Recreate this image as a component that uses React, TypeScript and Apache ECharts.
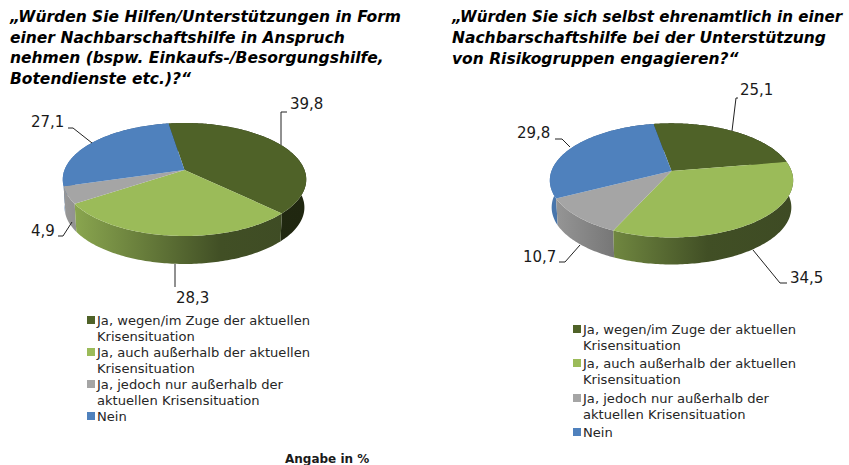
import React, { useEffect, useRef } from "react";
import * as echarts from "echarts";

const categories = [
  "Ja, wegen/im Zuge der aktuellen\nKrisensituation",
  "Ja, auch außerhalb der aktuellen\nKrisensituation",
  "Ja, jedoch nur außerhalb der\naktuellen Krisensituation",
  "Nein",
];
const valuesLeft = [39.8, 28.3, 4.9, 27.1];
const valuesRight = [25.1, 34.5, 10.7, 29.8];
const colors = ["#4F6228", "#9BBB59", "#A5A5A5", "#4F81BD"];
const titleLeft = "„Würden Sie Hilfen/Unterstützungen in Form\neiner Nachbarschaftshilfe in Anspruch\nnehmen (bspw. Einkaufs-/Besorgungshilfe,\nBotendienste etc.)?“";
const titleRight = "„Würden Sie sich selbst ehrenamtlich in einer\nNachbarschaftshilfe bei der Unterstützung\nvon Risikogruppen engagieren?“";
const footnote = "Angabe in %";

const FONT = '"DejaVu Sans", sans-serif';

type Pie = {
  cx: number; cy: number; R: number; S: number; a: number; depth: number; start: number;
  labels: { x: number; y: number; align: string; line: number[][] }[];
};

const pieLeft: Pie = {
  cx: 184.5, cy: 170, R: 120, S: 54.9, a: 0.168, depth: 28, start: -8.9,
  labels: [
    { x: 290, y: 104, align: "left", line: [[281, 145], [281, 112], [287, 112]] },
    { x: 176, y: 297.5, align: "left", line: [[175, 264], [175, 287]] },
    { x: 31, y: 231, align: "left", line: [[58, 236], [63, 236], [72, 222]] },
    { x: 31, y: 122, align: "left", line: [[68, 128], [73, 128], [92, 143]] },
  ],
};
const pieRight: Pie = {
  cx: 671.5, cy: 171, R: 120, S: 55.5, a: 0.165, depth: 27, start: -10,
  labels: [
    { x: 740, y: 90, align: "left", line: [[738, 98], [736, 98], [732, 131]] },
    { x: 790, y: 278, align: "left", line: [[787, 283], [780, 283], [753, 250]] },
    { x: 523, y: 257, align: "left", line: [[559, 262], [565, 262], [580, 245]] },
    { x: 517, y: 133, align: "left", line: [[555, 139], [562, 139], [570, 147]] },
  ],
};

function shade(hex: string, m: number) {
  const n = parseInt(hex.slice(1), 16);
  const c = [(n >> 16) & 255, (n >> 8) & 255, n & 255].map((v) => Math.round(v * m));
  return `rgb(${c[0]},${c[1]},${c[2]})`;
}

function rimPoint(p: Pie, deg: number) {
  const t = (deg * Math.PI) / 180;
  const u = Math.sin(t);
  const v = -Math.cos(t);
  const w = 1 - p.a * v;
  return [p.cx + (p.R * u) / w, p.cy + (p.S * v) / w];
}

function pieSeries(values: number[], p: Pie) {
  const total = values.reduce((s, v) => s + v, 0);
  const wallOrder = [1, 4, 3, 2];
  return {
    type: "custom",
    coordinateSystem: "none",
    silent: true,
    data: values.map((v, i) => [v, i]),
    renderItem: (_: any, api: any) => {
      const i = api.value(1);
      const value = api.value(0);
      const before = values.slice(0, i).reduce((s, v) => s + v, 0);
      const a0 = p.start + (before / total) * 360;
      const a1 = a0 + (value / total) * 360;
      const rim: number[][] = [];
      const n = Math.max(4, Math.ceil(a1 - a0));
      for (let k = 0; k <= n; k++) rim.push(rimPoint(p, a0 + ((a1 - a0) * k) / n));
      const lower = rim.map(([x, y]) => [p.cx + (x - p.cx) * 0.985, y + p.depth]).reverse();
      const L = p.cx - 121;
      const w = 242;
      const fill = new echarts.graphic.LinearGradient(
        L, 0, L + w, 0,
        [
          { offset: 0, color: shade(colors[i], 0.92) },
          { offset: 0.26, color: shade(colors[i], 0.72) },
          { offset: 0.65, color: shade(colors[i], 0.42) },
          { offset: 1, color: shade(colors[i], 0.4) },
        ],
        true as any
      );
      const lab = p.labels[i];
      return {
        type: "group",
        children: [
          { type: "polygon", z2: wallOrder[i], shape: { points: [...rim, ...lower] }, style: { fill } },
          { type: "polygon", z2: 10, shape: { points: [[p.cx, p.cy], ...rim] }, style: { fill: colors[i] } },
          { type: "polyline", z2: 11, shape: { points: lab.line }, style: { fill: "none", stroke: "#222", lineWidth: 1 } },
          {
            type: "text", z2: 12,
            style: {
              text: value.toFixed(1).replace(".", ","), x: lab.x, y: lab.y,
              font: `15px ${FONT}`, fill: "#1a1a1a", align: lab.align, verticalAlign: "middle",
            },
          },
        ],
      };
    },
  };
}

function legendGraphics(x: number, rows: number[], itemTops: number[]) {
  const out: any[] = [];
  let r = 0;
  categories.forEach((c, i) => {
    const lines = c.split("\n");
    out.push({ type: "rect", left: x, top: itemTops[i] - 4, shape: { width: 8, height: 8 }, style: { fill: colors[i] } });
    lines.forEach((l) => {
      out.push({
        type: "text", left: x + 10, top: rows[r] - 6.5,
        style: { text: l, font: `13.1px ${FONT}`, fill: "#262626" },
      });
      r++;
    });
  });
  return out;
}

function titleGraphic(text: string, x: number, y: number, lh: number, firstSize: number) {
  return text.split("\n").map((l, i) => ({
    type: "text", left: x, top: y + i * lh,
    style: { text: l, font: `italic bold ${i === 0 ? firstSize : 15.5}px ${FONT}`, fill: "#000" },
  }));
}

export default function App() {
  const ref = useRef<HTMLDivElement>(null);
  useEffect(() => {
    const chart = echarts.init(ref.current!, undefined, { renderer: "svg" });
    chart.setOption({
      animation: false,
      backgroundColor: "#fff",
      series: [pieSeries(valuesLeft, pieLeft), pieSeries(valuesRight, pieRight)],
      graphic: [
        ...titleGraphic(titleLeft, 10, 9, 20.6, 15.5),
        ...titleGraphic(titleRight, 452, 9, 21, 15.1),
        ...legendGraphics(87, [320, 336, 352, 368, 384, 400, 416], [320, 352, 384, 416]),
        ...legendGraphics(573, [329, 345, 363, 379, 398, 414, 432], [329, 363, 398, 432]),
        { type: "text", left: 285, top: 452.5, style: { text: footnote, font: `bold 12px ${FONT}`, fill: "#1a1a1a" } },
      ],
    });
    return () => chart.dispose();
  }, []);
  return <div ref={ref} style={{ position: "absolute", left: 0, top: 0, width: 849, height: 465 }} />;
}
